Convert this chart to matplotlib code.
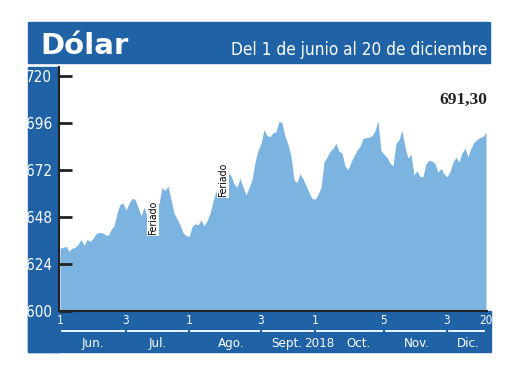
import matplotlib.pyplot as plt
from matplotlib.patches import Rectangle
from matplotlib.transforms import blended_transform_factory

# Dollar exchange rate, one value per trading day
dolar = [
    632, 632.5, 633, 630.5, 632, 632.5, 634, 636.5, 633.5, 636.5,
    635.5, 637, 639.5, 640, 640, 639, 638.5, 641.5, 643.5, 650,
    654.5, 655, 651.5, 655, 657.5, 657, 653, 648.5, 653, 648.5,
    651, 651, 652, 655, 663, 661.5, 663.8, 657, 650, 647,
    644, 640, 638.5, 638, 643, 644.5, 644, 646.5, 643.5, 646,
    649.8, 656, 661, 665, 665.2, 665.5, 671, 669, 665, 663.2,
    667.7, 663.4, 659.2, 663, 667, 676, 682, 685.5, 692.5, 689.5,
    689, 691, 691.5, 697, 696, 689, 685, 679, 667, 665.5,
    670, 667.5, 664, 660.5, 657.5, 657, 659.5, 663, 676, 678.5,
    681.5, 683, 685.5, 681.5, 680.5, 674, 672, 676, 679, 682,
    684, 688, 688.5, 688.5, 689.5, 692, 697, 682, 680, 678.5,
    675.5, 674, 685.5, 687.5, 692, 683.8, 678, 680, 669.5, 671.5,
    668.5, 668.6, 675, 677, 676.5, 675.3, 670.8, 672.8, 670, 668.5,
    671, 676, 678.5, 676, 680.5, 683, 678.7, 683, 686, 687.5,
    688.5, 689, 691.3,
]
days = list(range(len(dolar)))

day_ticks = [0, 22, 43, 67, 85, 108, 129, 142]
day_labels = ['1', '3', '1', '3', '1', '5', '3', '20']
month_labels = ['Jun.', 'Jul.', 'Ago.', 'Sept.', '2018', 'Oct.', 'Nov.', 'Dic.']
month_pos = [11, 32.5, 57, 75.5, 86.5, 99.5, 119, 136]
y_ticks = [600, 624, 648, 672, 696, 720]
feriados = [(31, 647.5), (54.3, 667)]
last_value = '691,30'

dark_blue = '#1f62a6'
fill_blue = '#7cb4e1'
narrow = dict(family='DejaVu Sans', stretch='condensed')

W, H = 520, 390
fig = plt.figure(figsize=(W / 100, H / 100), dpi=100)

# background layer in pixel coordinates
bg = fig.add_axes([0, 0, 1, 1])
bg.set_xlim(0, W)
bg.set_ylim(H, 0)
bg.axis('off')
bg.add_patch(Rectangle((28, 22), 462, 41, color=dark_blue))
bg.add_patch(Rectangle((28, 67), 31, 285, color=dark_blue))
bg.add_patch(Rectangle((28, 311), 463, 41, color=dark_blue))
bg.text(40, 54, 'Dólar', color='white', fontsize=21, fontweight='bold',
        family='DejaVu Sans')
bg.text(487, 55, 'Del 1 de junio al 20 de diciembre', color='white',
        fontsize=12.3, ha='right', **narrow)

# main chart
ax = fig.add_axes([59 / W, 1 - 311 / H, 428 / W, 244 / H])
ax.fill_between(days, 600, dolar, color=fill_blue, lw=0)
ax.set_xlim(-0.35, 142.35)
ax.set_ylim(600, 724.5)

for s in ['top', 'right']:
    ax.spines[s].set_visible(False)
for s in ['left', 'bottom']:
    ax.spines[s].set_color('#222222')
    ax.spines[s].set_linewidth(1.5)

ax.set_yticks(y_ticks)
ax.set_yticklabels([str(v) for v in y_ticks], color='white', fontsize=11, **narrow)
ax.tick_params(axis='y', direction='in', length=9, width=2, color='#222222', pad=5)
ax.set_xticks(day_ticks)
ax.set_xticklabels(day_labels, color='white', fontsize=8.5, **narrow)
ax.tick_params(axis='x', length=0, pad=2)

trans = blended_transform_factory(ax.transData, ax.transAxes)
for i in range(len(day_ticks) - 1):
    ax.plot([day_ticks[i] + 0.8, day_ticks[i + 1] - 0.8], [-0.084, -0.084],
            color='white', lw=1.3, transform=trans, clip_on=False)
for pos, lab in zip(month_pos, month_labels):
    ax.text(pos, -0.132, lab, color='white', fontsize=9.5, ha='center', va='center',
            transform=trans, **narrow)

for x, y in feriados:
    ax.text(x, y, 'Feriado', rotation=90, fontsize=7.5, ha='center', va='center',
            family='DejaVu Sans', stretch='condensed',
            bbox=dict(facecolor='white', edgecolor='none', pad=0.5))

ax.text(142.3, 707.5, last_value, fontsize=12.5, fontweight='bold', ha='right',
        va='center', family=['Liberation Serif', 'DejaVu Serif'], color='#222222')

fig.savefig('out.png', dpi=100)
